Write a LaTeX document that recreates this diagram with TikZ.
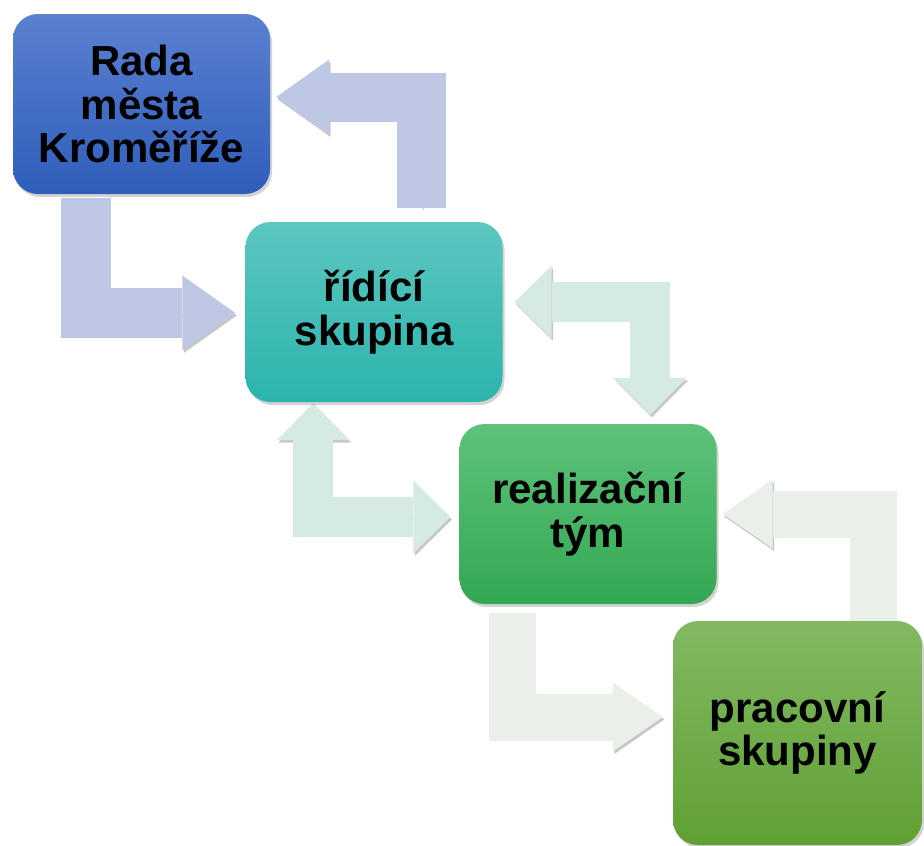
\documentclass[tikz,border=0pt]{standalone}
\usepackage{fontspec}
\setmainfont{Liberation Sans}
\usetikzlibrary{arrows.meta,calc,shadows,backgrounds}

\definecolor{radaTop}{HTML}{5B80D0}
\definecolor{radaBot}{HTML}{2E5EBB}
\definecolor{ridTop}{HTML}{5CC6C0}
\definecolor{ridBot}{HTML}{2BB4AD}
\definecolor{realTop}{HTML}{5EC27A}
\definecolor{realBot}{HTML}{33A852}
\definecolor{pracTop}{HTML}{82B962}
\definecolor{pracBot}{HTML}{5FA033}
\definecolor{arrA}{HTML}{BEC8E4}
\definecolor{arrB}{HTML}{D4EAE3}
\definecolor{arrC}{HTML}{EBEFEA}

\tikzset{
	Box/.style = {rectangle, rounded corners=25pt, minimum width=257pt, minimum height=180pt,
		align=center, text=black, font=\fontsize{42}{43.5}\selectfont\bfseries,
		drop shadow={opacity=0.35, shadow xshift=2pt, shadow yshift=-3pt}},
	Shaft/.style = {line width=#1, line join=miter,
		preaction={draw=black!22, transform canvas={shift={(1.5pt,-2.5pt)}}}},
	TipA/.tip = {Triangle[width=75pt, length=53pt, line width=0pt]},
	TipB/.tip = {Triangle[width=73pt, length=37pt, line width=0pt]},
	TipC/.tip = {Triangle[width=69pt, length=50pt, line width=0pt]},
}

\begin{document}
\begin{tikzpicture}[x=1pt, y=-1pt]
	\useasboundingbox (0,0) rectangle (924,846);
	\node[Box, top color=radaTop, bottom color=radaBot] (rada) at (141.5,104) {Rada\\města\\Kroměříže};
	\node[Box, top color=ridTop, bottom color=ridBot] (ridici) at (374,312) {řídící\\skupina};
	\node[Box, top color=realTop, bottom color=realBot] (realiz) at (588,514) {realizační\\tým};
	\node[Box, top color=pracTop, bottom color=pracBot, minimum width=249pt, minimum height=224pt] (prac) at (797.5,733) {pracovní\\skupiny};
	\begin{scope}[on background layer]
		\draw[Shaft=50pt, color=arrA, -TipA] ($(rada.south west)+(73.5,4)$) |- ($(ridici.west)+(-10,1)$);
		\draw[Shaft=49pt, color=arrA, -TipA] ($(ridici.north west)+(176.5,-14)$) |- ($(rada.east)+(6,-7)$);
		\draw[Shaft=40pt, color=arrB, TipB-TipB] ($(ridici.east)+(12,-10)$) -| ($(realiz.north west)+(191,-9)$);
		\draw[Shaft=40pt, color=arrB, TipB-TipB] ($(ridici.south west)+(68,1)$) |- ($(realiz.west)+(-9,3)$);
		\draw[Shaft=47pt, color=arrC, -TipC] ($(realiz.south west)+(53,9)$) |- ($(prac.west)+(-10,-16)$);
		\draw[Shaft=47pt, color=arrC, -TipC] ($(prac.north west)+(201,0)$) |- ($(realiz.east)+(6,0)$);
	\end{scope}
\end{tikzpicture}
\end{document}
